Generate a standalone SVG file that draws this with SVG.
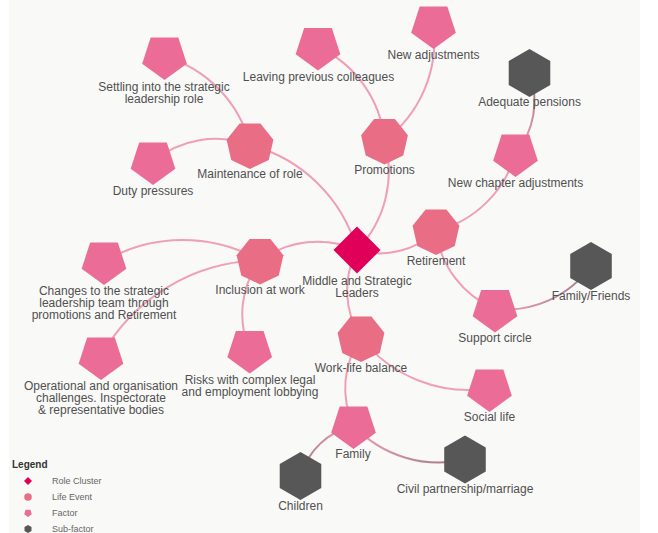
<svg xmlns="http://www.w3.org/2000/svg" xmlns:xlink="http://www.w3.org/1999/xlink" width="658" height="533" viewBox="0 0 658 533">
<style>
.lk{fill:none;stroke:#ef9fb8;stroke-width:2}
.lb{font-family:"Liberation Sans",Arial,sans-serif;font-size:12px;fill:#505050;text-anchor:middle}
.lg{font-family:"Liberation Sans",Arial,sans-serif;font-size:9px;fill:#666}
.dia{fill:#e0005a}
.hep{fill:#e96e85}
.pen{fill:#ec6c98}
.hex{fill:#575757}
</style>
<defs>
<polygon id="pent" points="0,23.5 -22.35,7.26 -13.82,-19.01 13.82,-19.01 22.35,7.26"/>
<polygon id="hept" points="0,24 -18.76,14.96 -23.4,-5.34 -10.41,-21.62 10.41,-21.62 23.4,-5.34 18.76,14.96"/>
<polygon id="hexa" points="20.78,12 0,24 -20.78,12 -20.78,-12 0,-24 20.78,-12"/>
<linearGradient id="g1" gradientUnits="userSpaceOnUse" x1="529.5" y1="73" x2="515.5" y2="153.5"><stop offset="0" stop-color="#9c7886"/><stop offset="1" stop-color="#ef9fb8"/></linearGradient>
<linearGradient id="g2" gradientUnits="userSpaceOnUse" x1="591" y1="266" x2="495" y2="309"><stop offset="0" stop-color="#9c7886"/><stop offset="1" stop-color="#ef9fb8"/></linearGradient>
<linearGradient id="g3" gradientUnits="userSpaceOnUse" x1="300.5" y1="476" x2="353.5" y2="425.5"><stop offset="0" stop-color="#9c7886"/><stop offset="1" stop-color="#ef9fb8"/></linearGradient>
<linearGradient id="g4" gradientUnits="userSpaceOnUse" x1="465" y1="459.5" x2="353.5" y2="425.5"><stop offset="0" stop-color="#9c7886"/><stop offset="1" stop-color="#ef9fb8"/></linearGradient>
</defs>
<rect x="0" y="0" width="658" height="533" fill="#ffffff"/>
<rect x="9" y="0" width="631" height="533" fill="#f9f9f7"/>
<g id="links">
<path class="lk" d="M250,145 A149.9,149.9 0 0,1 357,250"/>
<path class="lk" d="M384.5,140.5 A112.9,112.9 0 0,1 357,250"/>
<path class="lk" d="M436,231 A81.3,81.3 0 0,1 357,250"/>
<path class="lk" d="M260,260.5 A97.6,97.6 0 0,1 357,250"/>
<path class="lk" d="M361,338 A88.1,88.1 0 0,1 357,250"/>
<path class="lk" d="M164.5,56.5 A123.1,123.1 0 0,1 250,145"/>
<path class="lk" d="M153,161.5 A98.4,98.4 0 0,1 250,145"/>
<path class="lk" d="M318,47 A114.7,114.7 0 0,1 384.5,140.5"/>
<path class="lk" d="M433.5,25.5 A125,125 0 0,1 384.5,140.5"/>
<path class="lk" d="M515.5,153.5 A111,111 0 0,1 436,231"/>
<path class="lk" style="stroke:url(#g1)" d="M529.5,73 A81.7,81.7 0 0,1 515.5,153.5"/>
<path class="lk" d="M495,309 A97.8,97.8 0 0,1 436,231"/>
<path class="lk" style="stroke:url(#g2)" d="M591,266 A105.2,105.2 0 0,1 495,309"/>
<path class="lk" d="M104,261.5 A156,156 0 0,1 260,260.5"/>
<path class="lk" d="M101,356.5 A185.7,185.7 0 0,1 260,260.5"/>
<path class="lk" d="M249.7,350 A90.1,90.1 0 0,1 260,260.5"/>
<path class="lk" d="M489.5,388.5 A138.1,138.1 0 0,1 361,338"/>
<path class="lk" d="M353.5,425.5 A87.8,87.8 0 0,1 361,338"/>
<path class="lk" style="stroke:url(#g3)" d="M300.5,476 A73.2,73.2 0 0,1 353.5,425.5"/>
<path class="lk" style="stroke:url(#g4)" d="M465,459.5 A116.6,116.6 0 0,1 353.5,425.5"/>
</g>
<g id="n-center"><polygon class="dia" points="357,226.5 380.5,250 357,273.5 333.5,250"/><text class="lb" x="357" y="284.5">Middle and Strategic<tspan x="357" dy="12">Leaders</tspan></text></g>
<g id="n-maintenance"><use href="#hept" class="hep" x="250" y="145"/><text class="lb" x="250" y="178">Maintenance of role</text></g>
<g id="n-promotions"><use href="#hept" class="hep" x="384.5" y="140.5"/><text class="lb" x="384.5" y="174">Promotions</text></g>
<g id="n-retirement"><use href="#hept" class="hep" x="436" y="231"/><text class="lb" x="436" y="265">Retirement</text></g>
<g id="n-inclusion"><use href="#hept" class="hep" x="260" y="260.5"/><text class="lb" x="260" y="294">Inclusion at work</text></g>
<g id="n-worklife"><use href="#hept" class="hep" x="361" y="338"/><text class="lb" x="361" y="372">Work-life balance</text></g>
<g id="n-settling"><use href="#pent" class="pen" x="164.5" y="56.5"/><text class="lb" x="164" y="91">Settling into the strategic<tspan x="164" dy="12">leadership role</tspan></text></g>
<g id="n-duty"><use href="#pent" class="pen" x="153" y="161.5"/><text class="lb" x="153" y="195">Duty pressures</text></g>
<g id="n-leaving"><use href="#pent" class="pen" x="318" y="47"/><text class="lb" x="318.5" y="81">Leaving previous colleagues</text></g>
<g id="n-newadj"><use href="#pent" class="pen" x="433.5" y="25.5"/><text class="lb" x="433.5" y="59">New adjustments</text></g>
<g id="n-newchapter"><use href="#pent" class="pen" x="515.5" y="153.5"/><text class="lb" x="515.5" y="187">New chapter adjustments</text></g>
<g id="n-support"><use href="#pent" class="pen" x="495" y="309"/><text class="lb" x="495" y="342">Support circle</text></g>
<g id="n-changes"><use href="#pent" class="pen" x="104" y="261.5"/><text class="lb" x="104" y="295">Changes to the strategic<tspan x="104" dy="12">leadership team through</tspan><tspan x="104" dy="12">promotions and Retirement</tspan></text></g>
<g id="n-operational"><use href="#pent" class="pen" x="101" y="356.5"/><text class="lb" x="101" y="390">Operational and organisation<tspan x="101" dy="12">challenges. Inspectorate</tspan><tspan x="101" dy="12">&amp; representative bodies</tspan></text></g>
<g id="n-risks"><use href="#pent" class="pen" x="249.7" y="350"/><text class="lb" x="250" y="384">Risks with complex legal<tspan x="250" dy="12">and employment lobbying</tspan></text></g>
<g id="n-social"><use href="#pent" class="pen" x="489.5" y="388.5"/><text class="lb" x="489.5" y="421">Social life</text></g>
<g id="n-family"><use href="#pent" class="pen" x="353.5" y="425.5"/><text class="lb" x="353" y="458">Family</text></g>
<g id="n-adequate"><use href="#hexa" class="hex" x="529.5" y="73"/><text class="lb" x="529.5" y="106">Adequate pensions</text></g>
<g id="n-familyfriends"><use href="#hexa" class="hex" x="591" y="266"/><text class="lb" x="591" y="300">Family/Friends</text></g>
<g id="n-civil"><use href="#hexa" class="hex" x="465" y="459.5"/><text class="lb" x="465" y="493">Civil partnership/marriage</text></g>
<g id="n-children"><use href="#hexa" class="hex" x="300.5" y="476"/><text class="lb" x="300.5" y="510">Children</text></g>
<g id="legend">
<text x="12" y="467.5" font-family="'Liberation Sans',Arial,sans-serif" font-size="10" font-weight="bold" fill="#333">Legend</text>
<polygon class="dia" points="28,477 32,481 28,485 24,481"/>
<text class="lg" x="52" y="484">Role Cluster</text>
<circle class="hep" cx="28" cy="497" r="3.8"/>
<text class="lg" x="52" y="500">Life Event</text>
<polygon class="pen" points="28,517 24.2,514.2 25.6,509.8 30.4,509.8 31.8,514.2"/>
<text class="lg" x="52" y="516">Factor</text>
<polygon class="hex" points="31.5,531 28,533 24.5,531 24.5,527 28,525 31.5,527"/>
<text class="lg" x="52" y="532">Sub-factor</text>
</g>
</svg>
